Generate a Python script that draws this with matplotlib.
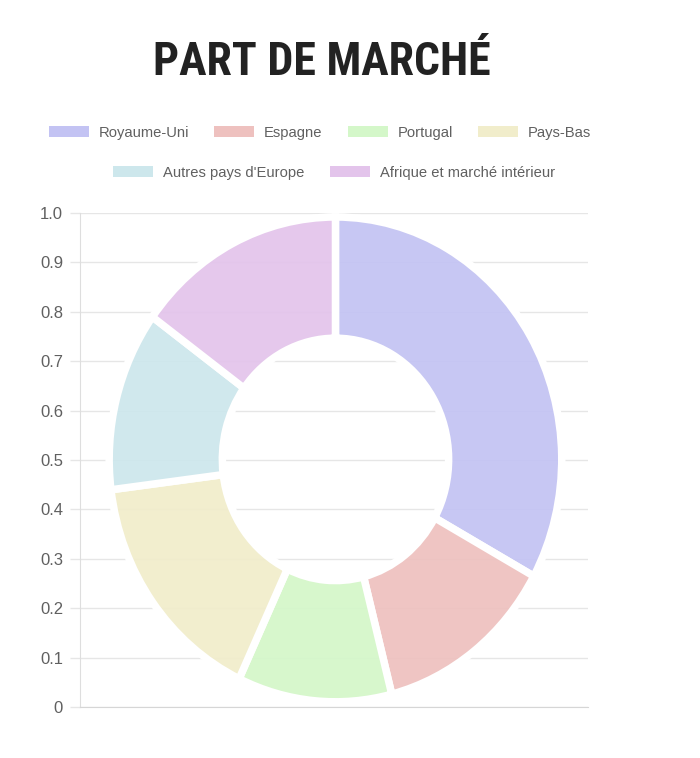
import matplotlib
matplotlib.use('Agg')
from matplotlib import pyplot as plt
from matplotlib.colors import to_rgba
from matplotlib.patches import Patch

# market share data (percent)
labels = ['Royaume-Uni', 'Espagne', 'Portugal', 'Pays-Bas',
          "Autres pays d'Europe", 'Afrique et marché intérieur']
shares = [33, 13, 11, 16, 12, 15]
colors = ['#c3c3f3', '#eec1bf', '#d4f7c9', '#f1edcb', '#cde7ec', '#e3c4eb']
y_ticks = [0, 0.1, 0.2, 0.3, 0.4, 0.5, 0.6, 0.7, 0.8, 0.9, 1.0]
y_tick_labels = ['0', '0.1', '0.2', '0.3', '0.4', '0.5', '0.6', '0.7', '0.8', '0.9', '1.0']

plt.rcParams['font.family'] = ['Liberation Sans', 'DejaVu Sans']

W, H = 700, 758
fig = plt.figure(figsize=(W / 100, H / 100), dpi=100)
fig.patch.set_facecolor('white')

grid_col = '#e6e6e6'
text_col = '#606060'

# background axis (chart.js style linear scale)
rect = [80 / W, (H - 707) / H, (588 - 80) / W, (707 - 213) / H]
ax = fig.add_axes(rect)
ax.set_xlim(0, 1)
ax.set_ylim(0, 1)
ax.set_yticks(y_ticks)
ax.set_yticklabels(y_tick_labels)
ax.set_xticks([])
ax.tick_params(axis='y', length=7.2, width=1, color=grid_col, pad=5,
               labelsize=12, labelcolor=text_col)
ax.grid(axis='y', color=grid_col, linewidth=1)
ax.set_axisbelow(True)
for side in ['top', 'right']:
    ax.spines[side].set_visible(False)
ax.spines['left'].set_color('#dedede')
ax.spines['bottom'].set_color('#d6d6d6')

# doughnut on an overlay axes, stretched like the screenshot
face = [to_rgba(c, 0.93) for c in colors]
ax2 = fig.add_axes(rect)
ax2.pie(shares, colors=face, startangle=90, counterclock=False,
        wedgeprops=dict(width=0.5, edgecolor='white', linewidth=5.4))
ax2.set_aspect('auto')
ax2.set_xlim(-1.129, 1.116)
ax2.set_ylim(-1.0215, 1.0165)
ax2.set_frame_on(False)

# title
fig.text(322 / W, 1 - 75 / H, 'PART DE MARCHÉ', ha='center', va='baseline',
         fontsize=33, fontweight='bold', family='Roboto Condensed', color='#222222')

# legend, two centred rows
fs = 10.6
px = fs * 100 / 72
handles = [Patch(facecolor=c, edgecolor='none') for c in colors]
leg_kw = dict(frameon=False, fontsize=fs, handlelength=40 / px, handleheight=12 / px,
              handletextpad=10 / px, columnspacing=25 / px, borderpad=0, borderaxespad=0,
              labelcolor=text_col, loc='center')
leg1 = fig.legend(handles[:4], labels[:4], ncol=4,
                  bbox_to_anchor=(320 / W, 1 - 132.5 / H), **leg_kw)
leg2 = fig.legend(handles[4:], labels[4:], ncol=2,
                  bbox_to_anchor=(334 / W, 1 - 172.5 / H), **leg_kw)

fig.savefig('out.png', dpi=100, facecolor='white')
